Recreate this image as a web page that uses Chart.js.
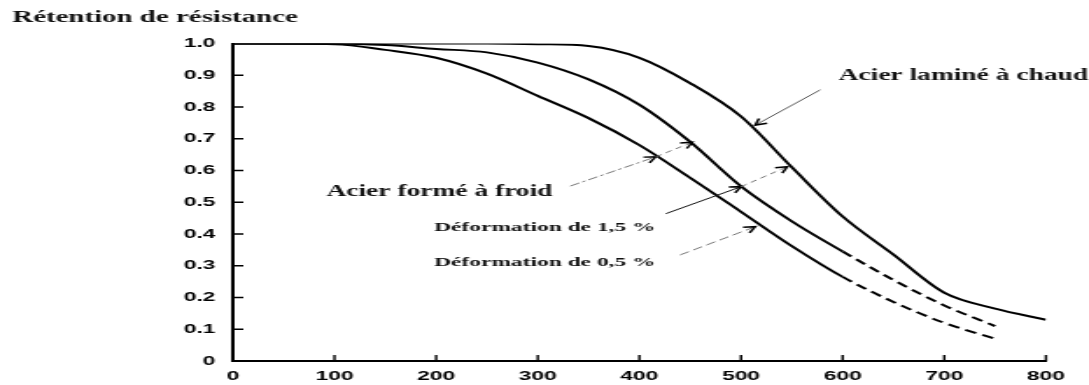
<!DOCTYPE html>
<html>
<head>
<meta charset="utf-8">
<script src="https://cdn.jsdelivr.net/npm/chart.js@4"></script>
<style>
  html, body { margin: 0; padding: 0; background: #fff; overflow: hidden; }
  /* the source figure is a stretched scan, so the chart is drawn narrow and widened */
  #wrap {
    position: absolute; left: 0; top: 0;
    width: 622px; height: 385px;
    transform: scaleX(1.7508); transform-origin: 0 0;
  }
</style>
</head>
<body>
<div id="wrap"><canvas id="chart"></canvas></div>
<script>
  const temperatures = [0, 100, 150, 200, 250, 300, 350, 400, 450, 500, 550, 600, 650, 700, 750, 800];
  const hotRolled = [1.0, 1.0, 1.0, 1.0, 1.0, 0.998, 0.992, 0.955, 0.875, 0.77, 0.61, 0.455, 0.335, 0.215, 0.165, 0.13];
  const strain15 = [1.0, 1.0, 0.995, 0.983, 0.972, 0.94, 0.887, 0.807, 0.69, 0.55, 0.44, 0.345, 0.255, 0.175, 0.11, null];
  const strain05 = [1.0, 0.998, 0.98, 0.955, 0.905, 0.835, 0.765, 0.68, 0.577, 0.47, 0.362, 0.265, 0.186, 0.12, 0.07, null];

  const xTickValues = [0, 100, 200, 300, 400, 500, 600, 700, 800];
  const xTickLabels = ["0", "100", "200", "300", "400", "500", "600", "700", "800"];
  const yTickValues = [0, 0.1, 0.2, 0.3, 0.4, 0.5, 0.6, 0.7, 0.8, 0.9, 1.0];
  const yTickLabels = ["0", "0.1", "0.2", "0.3", "0.4", "0.5", "0.6", "0.7", "0.8", "0.9", "1.0"];

  const titleText = "Rétention de résistance";

  // callouts in data units: label anchor, then arrow legs (from -> to, head at "to")
  const callouts = [
    { text: "Acier laminé à chaud", at: [596, 0.898], size: 15.7,
      legs: [{ from: [578, 0.854], to: [514, 0.743], color: "#555", dash: [] }] },
    { text: "Acier formé à froid", at: [92, 0.531], size: 15.7,
      legs: [
        { from: [332, 0.551], to: [416, 0.643], color: "#777", dash: [6, 2, 2, 2] },
        { from: [416, 0.643], to: [452, 0.689], color: "#777", dash: [4, 3] },
      ] },
    { text: "Déformation de 1,5 %", at: [198, 0.42], size: 13.4,
      legs: [
        { from: [426, 0.464], to: [500, 0.549], color: "#111", dash: [] },
        { from: [500, 0.549], to: [545.5, 0.612], color: "#777", dash: [4, 3] },
      ] },
    { text: "Déformation de 0,5 %", at: [198, 0.31], size: 13.4,
      legs: [{ from: [440, 0.334], to: [514, 0.423], color: "#777", dash: [6, 3] }] },
  ];

  function toPoints(values) {
    return temperatures.map((t, i) => ({ x: t, y: values[i] }));
  }

  const dashedTail = {
    borderDash: (ctx) => (ctx.p0.parsed.x >= 600 ? [7, 4] : undefined),
  };

  function drawArrow(ctx, x1, y1, x2, y2) {
    const a = Math.atan2(y2 - y1, x2 - x1);
    const len = 7;
    ctx.beginPath();
    ctx.moveTo(x2 - len * Math.cos(a - 0.5), y2 - len * Math.sin(a - 0.5));
    ctx.lineTo(x2, y2);
    ctx.lineTo(x2 - len * Math.cos(a + 0.5), y2 - len * Math.sin(a + 0.5));
    ctx.stroke();
  }

  const decorations = {
    id: "decorations",
    afterDatasetsDraw(chart) {
      const { ctx, scales: { x, y } } = chart;
      ctx.save();

      // inward tick marks
      ctx.strokeStyle = "#000";
      ctx.lineWidth = 1.4;
      ctx.beginPath();
      yTickValues.forEach((v) => {
        if (v === 0 || v === 1) return;
        ctx.moveTo(x.getPixelForValue(0), y.getPixelForValue(v));
        ctx.lineTo(x.getPixelForValue(0) + 6, y.getPixelForValue(v));
      });
      xTickValues.forEach((v) => {
        if (v === 0) return;
        ctx.moveTo(x.getPixelForValue(v), y.getPixelForValue(0));
        ctx.lineTo(x.getPixelForValue(v), y.getPixelForValue(0) - 6);
      });
      ctx.stroke();

      callouts.forEach((c) => {
        ctx.fillStyle = "#111";
        ctx.font = "bold " + c.size + "px 'Liberation Serif', 'Times New Roman', serif";
        ctx.textAlign = "left";
        ctx.textBaseline = "middle";
        ctx.fillText(c.text, x.getPixelForValue(c.at[0]), y.getPixelForValue(c.at[1]));

        c.legs.forEach((leg) => {
          const x1 = x.getPixelForValue(leg.from[0]), y1 = y.getPixelForValue(leg.from[1]);
          const x2 = x.getPixelForValue(leg.to[0]), y2 = y.getPixelForValue(leg.to[1]);
          ctx.strokeStyle = leg.color;
          ctx.lineWidth = 1;
          ctx.setLineDash(leg.dash);
          ctx.beginPath();
          ctx.moveTo(x1, y1);
          ctx.lineTo(x2, y2);
          ctx.stroke();
          ctx.setLineDash([]);
          ctx.strokeStyle = "#000";
          ctx.lineWidth = 1.5;
          drawArrow(ctx, x1, y1, x2, y2);
        });
      });
      ctx.restore();
    },
  };

  const lineStyle = {
    borderColor: "#000",
    borderWidth: 2,
    pointRadius: 0,
    fill: false,
    cubicInterpolationMode: "monotone",
  };

  const tickFont = { family: "'Liberation Sans', Arial, sans-serif", size: 13, weight: "bold" };

  new Chart(document.getElementById("chart"), {
    type: "line",
    data: {
      datasets: [
        { label: "Acier laminé à chaud", data: toPoints(hotRolled), ...lineStyle },
        { label: "Déformation de 1,5 %", data: toPoints(strain15), ...lineStyle, segment: dashedTail },
        { label: "Déformation de 0,5 %", data: toPoints(strain05), ...lineStyle, segment: dashedTail },
      ],
    },
    options: {
      responsive: true,
      maintainAspectRatio: false,
      animation: false,
      layout: { padding: { left: 7, right: 24.6, top: 0, bottom: 0 } },
      plugins: {
        legend: { display: false },
        tooltip: { enabled: false },
        title: {
          display: true,
          text: titleText,
          align: "start",
          color: "#111",
          font: { family: "'Liberation Serif', 'Times New Roman', serif", size: 16.5, weight: "bold" },
          padding: { top: 8, bottom: 15.7 },
        },
      },
      scales: {
        x: {
          type: "linear",
          min: 0,
          max: 800,
          grid: { display: true, drawOnChartArea: false, drawTicks: false },
          border: { color: "#000", width: 2 },
          ticks: {
            stepSize: 100,
            padding: 8,
            color: "#000",
            font: tickFont,
            maxRotation: 0,
            callback: (v) => xTickLabels[xTickValues.indexOf(v)] ?? "",
          },
          afterFit: (scale) => { scale.height = 24; },
        },
        y: {
          min: 0,
          max: 1,
          grid: { display: true, drawOnChartArea: false, drawTicks: false },
          border: { color: "#000", width: 2 },
          ticks: {
            stepSize: 0.1,
            padding: 10,
            color: "#000",
            font: tickFont,
            callback: (v) => {
              const i = yTickValues.findIndex((t) => Math.abs(t - v) < 1e-6);
              return i >= 0 ? yTickLabels[i] : "";
            },
          },
          afterFit: (scale) => { scale.width = 126; },
        },
      },
    },
    plugins: [decorations],
  });
</script>
</body>
</html>
